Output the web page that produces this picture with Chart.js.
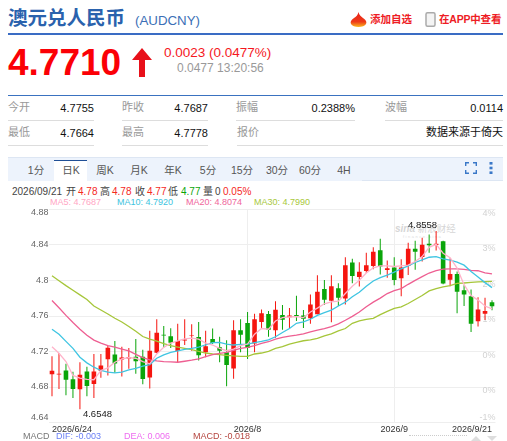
<!DOCTYPE html>
<html>
<head>
<meta charset="utf-8">
<title>AUDCNY</title>
<script src="https://cdn.jsdelivr.net/npm/chart.js@4"></script>
<style>
    html, body { margin: 0; padding: 0; background: #fff; }
    body { position: relative; width: 507px; height: 441px; overflow: hidden; font-family: "Liberation Sans", "Noto Sans CJK SC", sans-serif; }
    .t { position: absolute; white-space: nowrap; line-height: 1; }
    .r { text-align: right; }
    .line { position: absolute; height: 1px; background: #dddddd; }
    .lab { font-size: 11px; color: #999; }
    .val { font-size: 11px; color: #111; }
    .tab { position: absolute; top: 165px; width: 34px; text-align: center; font-size: 10.5px; line-height: 1; color: #555; white-space: nowrap; }
    .info { font-size: 10px; color: #444; top: 187px; }
    .up { color: #f5281e; }
    .down { color: #0aa50a; }
    .ma { font-size: 9px; top: 198px; }
    .macd { font-size: 9px; top: 432px; }
    #chartBox { position: absolute; left: 0; top: 200px; width: 507px; height: 241px; }
</style>
</head>
<body>
<div class="t" style="left:8px;top:9px;font-size:19.5px;font-weight:bold;color:#2a62ad">澳元兑人民币</div>
<div class="t" style="left:135px;top:14px;font-size:13.3px;color:#3b6fb6">(AUDCNY)</div>
<svg style="position:absolute;left:350px;top:12px" width="17" height="15" viewBox="0 0 17 15">
    <defs><linearGradient id="fire" x1="0" y1="0" x2="0" y2="1"><stop offset="0" stop-color="#e8221a"/><stop offset="0.65" stop-color="#ee3a18"/><stop offset="1" stop-color="#fbb81e"/></linearGradient></defs>
    <path d="M8.5 0 C9 3 11 4 13 6 C16 8 17 10 16 12 C15 14 12 15 8.5 15 C5 15 2 14 1 12 C0 10 1 8 4 6 C6 5 8 3 8.5 0 Z" fill="url(#fire)"/>
</svg>
<div class="t" style="left:370px;top:14px;font-size:10.5px;font-weight:bold;color:#ee1c25">添加自选</div>
<svg style="position:absolute;left:425px;top:12px" width="11" height="15" viewBox="0 0 11 15">
    <rect x="1" y="0.8" width="9" height="13.4" rx="1.5" fill="#f4f4f4" stroke="#aaa" stroke-width="1.5"/>
</svg>
<div class="t" style="left:439px;top:14px;font-size:10.5px;font-weight:bold;color:#ee1c25;letter-spacing:-0.2px">在APP中查看</div>
<div class="line" style="left:8px;top:33px;width:495px;height:2px;background:#3a6cc4"></div>

<div class="t" style="left:8px;top:44px;font-size:37px;font-weight:bold;color:#fb0006">4.7710</div>
<svg style="position:absolute;left:132px;top:48px" width="20" height="29" viewBox="0 0 20 29">
    <polygon points="10,0 20,12 13,12 13,29 7,29 7,12 0,12" fill="#e8101a"/>
</svg>
<div class="t" style="left:164px;top:46px;font-size:13.5px;color:#f5181e">0.0023 (0.0477%)</div>
<div class="t" style="left:177px;top:62px;font-size:12px;color:#999">0.0477 13:20:56</div>
<div class="line" style="left:8px;top:95px;width:495px;background:#3a72c0"></div>

<div class="t lab" style="left:8px;top:102px">今开</div>
<div class="t val r" style="left:54px;width:40px;top:103px">4.7755</div>
<div class="line" style="left:8px;top:120px;width:86px"></div>
<div class="t lab" style="left:122px;top:102px">昨收</div>
<div class="t val r" style="left:168px;width:40px;top:103px">4.7687</div>
<div class="line" style="left:122px;top:120px;width:86px"></div>
<div class="t lab" style="left:236px;top:102px">振幅</div>
<div class="t val r" style="left:295px;width:60px;top:103px">0.2388%</div>
<div class="line" style="left:236px;top:120px;width:119px"></div>
<div class="t lab" style="left:385px;top:102px">波幅</div>
<div class="t val r" style="left:443px;width:60px;top:103px">0.0114</div>
<div class="line" style="left:385px;top:120px;width:118px"></div>

<div class="t lab" style="left:8px;top:127px">最低</div>
<div class="t val r" style="left:54px;width:40px;top:128px">4.7664</div>
<div class="line" style="left:8px;top:145px;width:86px"></div>
<div class="t lab" style="left:122px;top:127px">最高</div>
<div class="t val r" style="left:168px;width:40px;top:128px">4.7778</div>
<div class="line" style="left:122px;top:145px;width:86px"></div>
<div class="t lab" style="left:237px;top:127px">报价</div>
<div class="t val r" style="left:403px;width:100px;top:127px">数据来源于倚天</div>
<div class="line" style="left:237px;top:145px;width:266px"></div>

<div style="position:absolute;left:8px;top:157px;width:495px;height:24px;background:#edf3fc;border-top:1px solid #dde6f3;box-sizing:border-box"></div>
<div style="position:absolute;left:362px;top:180px;width:141px;height:1px;background:#dde6f3"></div>
<div style="position:absolute;left:54px;top:160px;width:33px;height:21px;background:#fff;border-top:1px solid #1f4f96;box-sizing:border-box"></div>
<div class="tab" style="left:19px">1分</div>
<div class="tab" style="left:54px">日K</div>
<div class="tab" style="left:88px">周K</div>
<div class="tab" style="left:122px">月K</div>
<div class="tab" style="left:156px">年K</div>
<div class="tab" style="left:191px">5分</div>
<div class="tab" style="left:225px">15分</div>
<div class="tab" style="left:260px">30分</div>
<div class="tab" style="left:293px">60分</div>
<div class="tab" style="left:327px">4H</div>
<svg style="position:absolute;left:465px;top:162px" width="12" height="12" viewBox="0 0 12 12">
    <path d="M0.7 4 V0.7 H4 M8 0.7 H11.3 V4 M11.3 8 V11.3 H8 M4 11.3 H0.7 V8" fill="none" stroke="#3a78c8" stroke-width="1.4"/>
</svg>
<svg style="position:absolute;left:489px;top:162px" width="4" height="12" viewBox="0 0 4 12">
    <rect x="0.5" y="0" width="3" height="2.6" fill="#3a78c8"/><rect x="0.5" y="4.7" width="3" height="2.6" fill="#3a78c8"/><rect x="0.5" y="9.4" width="3" height="2.6" fill="#3a78c8"/>
</svg>

<div class="t info" style="left:12px">2026/09/21</div>
<div class="t info" style="left:66px">开</div><div class="t info up" style="left:78px">4.78</div>
<div class="t info" style="left:100px">高</div><div class="t info up" style="left:112px">4.78</div>
<div class="t info" style="left:135px">收</div><div class="t info up" style="left:147px">4.77</div>
<div class="t info" style="left:168px">低</div><div class="t info down" style="left:181px">4.77</div>
<div class="t info" style="left:203px">量</div><div class="t info" style="left:215px">0</div>
<div class="t info up" style="left:223px">0.05%</div>

<div class="t ma" style="left:50px;color:#ffa6c4">MA5: 4.7687</div>
<div class="t ma" style="left:117px;color:#3cc3de">MA10: 4.7920</div>
<div class="t ma" style="left:186px;color:#f0659b">MA20: 4.8074</div>
<div class="t ma" style="left:254px;color:#a8c83c">MA30: 4.7990</div>

<div class="t" style="left:395px;top:224px;font-size:10px;font-style:italic;font-weight:bold;color:#d6d6d6">sina <span style="font-style:normal;font-weight:normal;font-size:9.5px">新浪财经</span></div>
<div class="t" style="left:403px;top:235px;font-size:4px;letter-spacing:1.5px;color:#dddddd">finance.sina</div>

<div id="chartBox"><canvas id="myChart"></canvas></div>

<div class="t macd" style="left:23px;color:#777">MACD</div>
<div class="t macd" style="left:56px;color:#6a7ff5">DIF: -0.003</div>
<div class="t macd" style="left:124px;color:#ee6cf0">DEA: 0.006</div>
<div class="t macd" style="left:193px;color:#b5453f">MACD: -0.018</div>
<div style="position:absolute;left:409px;top:435px;width:58px;border-top:1px dotted #cccccc"></div>
<svg style="position:absolute;left:471px;top:436px" width="27" height="5" viewBox="0 0 27 5">
    <polygon points="5,0 10,5 0,5" fill="#dddddd"/><polygon points="16,0 26,0 21,5" fill="#dddddd"/>
</svg>

<script>
const categories = [
    '2026/6/24', '2026/6/25', '2026/6/26', '2026/6/29', '2026/6/30', '2026/7/1', '2026/7/2', '2026/7/3',
    '2026/7/6', '2026/7/7', '2026/7/8', '2026/7/9', '2026/7/10', '2026/7/13', '2026/7/14', '2026/7/15',
    '2026/7/16', '2026/7/17', '2026/7/20', '2026/7/21', '2026/7/22', '2026/7/23', '2026/7/24', '2026/7/27',
    '2026/7/28', '2026/7/29', '2026/7/30', '2026/7/31', '2026/8/3', '2026/8/4', '2026/8/5', '2026/8/6',
    '2026/8/7', '2026/8/10', '2026/8/11', '2026/8/12', '2026/8/13', '2026/8/14', '2026/8/17', '2026/8/18',
    '2026/8/19', '2026/8/20', '2026/8/21', '2026/8/24', '2026/8/25', '2026/8/26', '2026/8/27', '2026/8/28',
    '2026/8/31', '2026/9/1', '2026/9/2', '2026/9/3', '2026/9/4', '2026/9/7', '2026/9/8', '2026/9/9',
    '2026/9/10', '2026/9/11', '2026/9/14', '2026/9/15', '2026/9/16', '2026/9/17', '2026/9/18', '2026/9/21'
];
const openPrices = [
    4.6945, 4.6942, 4.6986, 4.6886, 4.6774, 4.6975, 4.6834, 4.6982, 4.7113, 4.7165, 4.7109, 4.7120, 4.7142, 4.7142, 4.6908, 4.7187,
    4.7388, 4.7373, 4.7206, 4.7325, 4.7377, 4.7362, 4.7191, 4.7340, 4.7247, 4.7191, 4.7009, 4.7440, 4.7522, 4.7291, 4.7533, 4.7622,
    4.7440, 4.7611, 4.7585, 4.7611, 4.7607, 4.7574, 4.7619, 4.7905, 4.7771, 4.7912, 4.7797, 4.8203, 4.8039, 4.8106, 4.8162, 4.8340,
    4.8117, 4.8147, 4.8024, 4.8165, 4.8359, 4.8266, 4.8415, 4.8400, 4.8441, 4.8009, 4.8072, 4.7890, 4.7823, 4.7540, 4.7626, 4.7755
];
const closePrices = [
    4.6982, 4.6949, 4.6882, 4.6778, 4.6938, 4.6811, 4.6975, 4.7042, 4.7243, 4.7064, 4.7131, 4.7139, 4.7090, 4.6889, 4.7209, 4.7410,
    4.7381, 4.7299, 4.7317, 4.7336, 4.7384, 4.7157, 4.7258, 4.7295, 4.7209, 4.7049, 4.7440, 4.7388, 4.7239, 4.7563, 4.7630, 4.7444,
    4.7671, 4.7559, 4.7607, 4.7600, 4.7570, 4.7730, 4.7872, 4.7782, 4.7935, 4.7805, 4.8173, 4.8050, 4.8098, 4.8173, 4.8325, 4.8158,
    4.8139, 4.8005, 4.8147, 4.8359, 4.8325, 4.8404, 4.8396, 4.8415, 4.7965, 4.8072, 4.7872, 4.7842, 4.7514, 4.7674, 4.7656, 4.7710
];
const highPrices = [
    4.7146, 4.7183, 4.7061, 4.6971, 4.7079, 4.7027, 4.7172, 4.7172, 4.7265, 4.7317, 4.7254, 4.7239, 4.7340, 4.7221, 4.7433, 4.7563,
    4.7488, 4.7462, 4.7514, 4.7563, 4.7507, 4.7533, 4.7433, 4.7459, 4.7366, 4.7328, 4.7552, 4.7563, 4.7645, 4.7626, 4.7674, 4.7656,
    4.7767, 4.7723, 4.7689, 4.7827, 4.7667, 4.7842, 4.8058, 4.8005, 4.8058, 4.7968, 4.8262, 4.8244, 4.8206, 4.8314, 4.8374, 4.8470,
    4.8225, 4.8262, 4.8240, 4.8426, 4.8448, 4.8482, 4.8519, 4.8558, 4.8448, 4.8251, 4.8102, 4.7946, 4.7898, 4.7812, 4.7805, 4.7778
];
const lowPrices = [
    4.6696, 4.6778, 4.6707, 4.6677, 4.6548, 4.6696, 4.6677, 4.6904, 4.6930, 4.6960, 4.6919, 4.7005, 4.6949, 4.6830, 4.6782, 4.7180,
    4.7247, 4.7239, 4.7079, 4.7273, 4.7209, 4.7098, 4.7135, 4.7284, 4.7079, 4.6808, 4.6893, 4.7191, 4.7116, 4.7191, 4.7462, 4.7366,
    4.7354, 4.7444, 4.7462, 4.7544, 4.7466, 4.7514, 4.7619, 4.7723, 4.7529, 4.7712, 4.7730, 4.7968, 4.7931, 4.8084, 4.8128, 4.8069,
    4.8032, 4.7946, 4.7823, 4.8061, 4.8121, 4.8214, 4.8314, 4.8337, 4.7957, 4.7935, 4.7630, 4.7712, 4.7421, 4.7481, 4.7555, 4.7664
];
const ma5 = [
    4.7254, 4.7180, 4.7087, 4.6930, 4.6901, 4.6886, 4.6882, 4.6986, 4.7016, 4.7079, 4.7116, 4.7131, 4.7124, 4.7087, 4.7061, 4.7172,
    4.7247, 4.7295, 4.7321, 4.7343, 4.7351, 4.7340, 4.7295, 4.7273, 4.7235, 4.7209, 4.7228, 4.7265, 4.7284, 4.7395, 4.7459, 4.7451,
    4.7544, 4.7581, 4.7589, 4.7593, 4.7581, 4.7645, 4.7689, 4.7738, 4.7760, 4.7767, 4.7853, 4.7935, 4.8002, 4.8084, 4.8143, 4.8165,
    4.8165, 4.8158, 4.8165, 4.8173, 4.8214, 4.8270, 4.8374, 4.8407, 4.8307, 4.8258, 4.8139, 4.7953, 4.7831, 4.7779, 4.7712, 4.7680
];
const ma10 = [
    4.7451, 4.7395, 4.7314, 4.7235, 4.7135, 4.7072, 4.7023, 4.6986, 4.6968, 4.6960, 4.6968, 4.6994, 4.7009, 4.7035, 4.7053, 4.7124,
    4.7161, 4.7191, 4.7206, 4.7224, 4.7235, 4.7250, 4.7276, 4.7299, 4.7302, 4.7284, 4.7273, 4.7280, 4.7284, 4.7299, 4.7314, 4.7332,
    4.7366, 4.7414, 4.7459, 4.7518, 4.7533, 4.7563, 4.7607, 4.7637, 4.7667, 4.7712, 4.7756, 4.7816, 4.7868, 4.7935, 4.7994, 4.8032,
    4.8061, 4.8095, 4.8132, 4.8165, 4.8203, 4.8232, 4.8262, 4.8270, 4.8244, 4.8229, 4.8206, 4.8173, 4.8102, 4.8039, 4.7976, 4.7920
];
const ma20 = [
    4.7775, 4.7693, 4.7607, 4.7526, 4.7451, 4.7384, 4.7328, 4.7295, 4.7265, 4.7250, 4.7228, 4.7206, 4.7168, 4.7131, 4.7105, 4.7094,
    4.7087, 4.7083, 4.7079, 4.7090, 4.7102, 4.7116, 4.7142, 4.7165, 4.7180, 4.7191, 4.7213, 4.7235, 4.7247, 4.7265, 4.7291, 4.7310,
    4.7340, 4.7358, 4.7373, 4.7384, 4.7399, 4.7421, 4.7440, 4.7459, 4.7481, 4.7511, 4.7552, 4.7596, 4.7645, 4.7704, 4.7756, 4.7801,
    4.7853, 4.7886, 4.7909, 4.7957, 4.8002, 4.8043, 4.8084, 4.8110, 4.8128, 4.8132, 4.8132, 4.8125, 4.8113, 4.8110, 4.8087, 4.8074
];
const ma30 = [
    4.8054, 4.7998, 4.7942, 4.7890, 4.7838, 4.7786, 4.7712, 4.7667, 4.7622, 4.7574, 4.7533, 4.7481, 4.7429, 4.7369, 4.7340, 4.7317,
    4.7288, 4.7265, 4.7250, 4.7235, 4.7221, 4.7202, 4.7183, 4.7172, 4.7165, 4.7157, 4.7150, 4.7146, 4.7146, 4.7172, 4.7183, 4.7202,
    4.7235, 4.7254, 4.7284, 4.7302, 4.7321, 4.7332, 4.7347, 4.7377, 4.7399, 4.7433, 4.7459, 4.7518, 4.7544, 4.7563, 4.7574, 4.7615,
    4.7652, 4.7686, 4.7704, 4.7741, 4.7786, 4.7831, 4.7883, 4.7909, 4.7927, 4.7942, 4.7968, 4.7972, 4.7980, 4.7985, 4.7988, 4.7990
];
const priceTicks = [4.88, 4.84, 4.8, 4.76, 4.72, 4.68, 4.64];
const priceTickText = ['4.88', '4.84', '4.8', '4.76', '4.72', '4.68', '4.64'];
const percentTickText = ['4%', '3%', '2%', '1%', '0%', '0%', '-1%'];
const dateTickIndex = [0, 28, 49, 63];
const dateTickText = ['2026/6/24', '2026/8', '2026/9', '2026/9/21'];

const upColor = '#f5150f';
const downColor = '#0aa50a';
const candleColors = closePrices.map((c, i) => c >= openPrices[i] ? upColor : downColor);

// the high and low labels sit next to their wicks
const extremeLabels = {
    id: 'extremeLabels',
    afterDatasetsDraw(chart) {
        const x = chart.scales.x, y = chart.scales.y, ctx = chart.ctx;
        const hi = highPrices.indexOf(Math.max(...highPrices));
        const lo = lowPrices.indexOf(Math.min(...lowPrices));
        ctx.save();
        ctx.font = '9.5px "Liberation Sans"';
        ctx.fillStyle = '#222';
        ctx.textBaseline = 'middle';
        ctx.textAlign = 'right';
        ctx.fillText(highPrices[hi].toFixed(4), x.getPixelForValue(hi) + 1, y.getPixelForValue(highPrices[hi]) - 6);
        ctx.textAlign = 'left';
        ctx.fillText(lowPrices[lo].toFixed(4), x.getPixelForValue(lo) + 3, y.getPixelForValue(lowPrices[lo]) + 5);
        ctx.restore();
    }
};

function maLine(label, data, color) {
    return { type: 'line', label: label, data: data, borderColor: color, borderWidth: 1.3, pointRadius: 0, tension: 0, order: 1, yAxisID: 'y' };
}

new Chart(document.getElementById('myChart'), {
    data: {
        labels: categories,
        datasets: [
            maLine('MA5', ma5, '#ffb3ca'),
            maLine('MA10', ma10, '#3fc5e2'),
            maLine('MA20', ma20, '#ee5f92'),
            maLine('MA30', ma30, '#a6c63a'),
            {
                type: 'bar',
                label: 'body',
                data: openPrices.map((o, i) => [o, closePrices[i]]),
                backgroundColor: candleColors,
                barThickness: 4.6,
                grouped: false,
                inflateAmount: 0,
                order: 2
            },
            {
                type: 'bar',
                label: 'wick',
                data: lowPrices.map((l, i) => [l, highPrices[i]]),
                backgroundColor: candleColors,
                barThickness: 1,
                grouped: false,
                inflateAmount: 0,
                order: 3
            }
        ]
    },
    options: {
        responsive: true,
        maintainAspectRatio: false,
        animation: false,
        layout: { padding: { top: 9.5 } },
        plugins: { legend: { display: false }, tooltip: { enabled: false } },
        scales: {
            x: {
                offset: true,
                afterFit: s => { s.height = 18.5; },
                afterBuildTicks: s => { s.ticks = dateTickIndex.map(v => ({ value: v })); },
                border: { display: false },
                grid: {
                    offset: false,
                    drawTicks: false,
                    color: c => (c.index === 1 || c.index === 2) ? '#eeeeee' : 'transparent'
                },
                ticks: {
                    autoSkip: false,
                    maxRotation: 0,
                    align: 'inner',
                    padding: 1.5,
                    color: '#333',
                    font: { family: '"Liberation Sans"', size: 9 },
                    callback: (v, i) => dateTickText[i]
                }
            },
            y: {
                position: 'left',
                min: 4.64,
                max: 4.88,
                afterFit: s => { s.width = 48.5; s.paddingTop = 0; s.paddingBottom = 0; },
                afterBuildTicks: s => { s.ticks = priceTicks.map(v => ({ value: v })); },
                border: { display: false },
                grid: { drawTicks: false, color: '#eeeeee' },
                ticks: {
                    autoSkip: false,
                    padding: 0,
                    color: '#666',
                    font: c => ({ family: '"Liberation Sans"', size: 9, lineHeight: c.index === 0 ? '6.5px' : c.index === 6 ? '9px' : 1.2 }),
                    callback: (v, i) => i === 0 ? ['', priceTickText[i]] : i === 6 ? [priceTickText[i], ''] : priceTickText[i]
                }
            },
            y1: {
                position: 'right',
                min: 4.64,
                max: 4.88,
                afterFit: s => { s.width = 11.5; s.paddingTop = 0; s.paddingBottom = 0; },
                afterBuildTicks: s => { s.ticks = priceTicks.map(v => ({ value: v })); },
                border: { display: false },
                grid: { display: false, drawTicks: false },
                ticks: {
                    autoSkip: false,
                    mirror: true,
                    padding: 0,
                    labelOffset: 4,
                    color: '#d2d2d2',
                    font: c => ({ family: '"Liberation Sans"', size: 9, lineHeight: c.index === 6 ? '18px' : 1.2 }),
                    callback: (v, i) => i === 6 ? [percentTickText[i], ''] : percentTickText[i]
                }
            }
        }
    },
    plugins: [extremeLabels]
});
</script>
</body>
</html>
